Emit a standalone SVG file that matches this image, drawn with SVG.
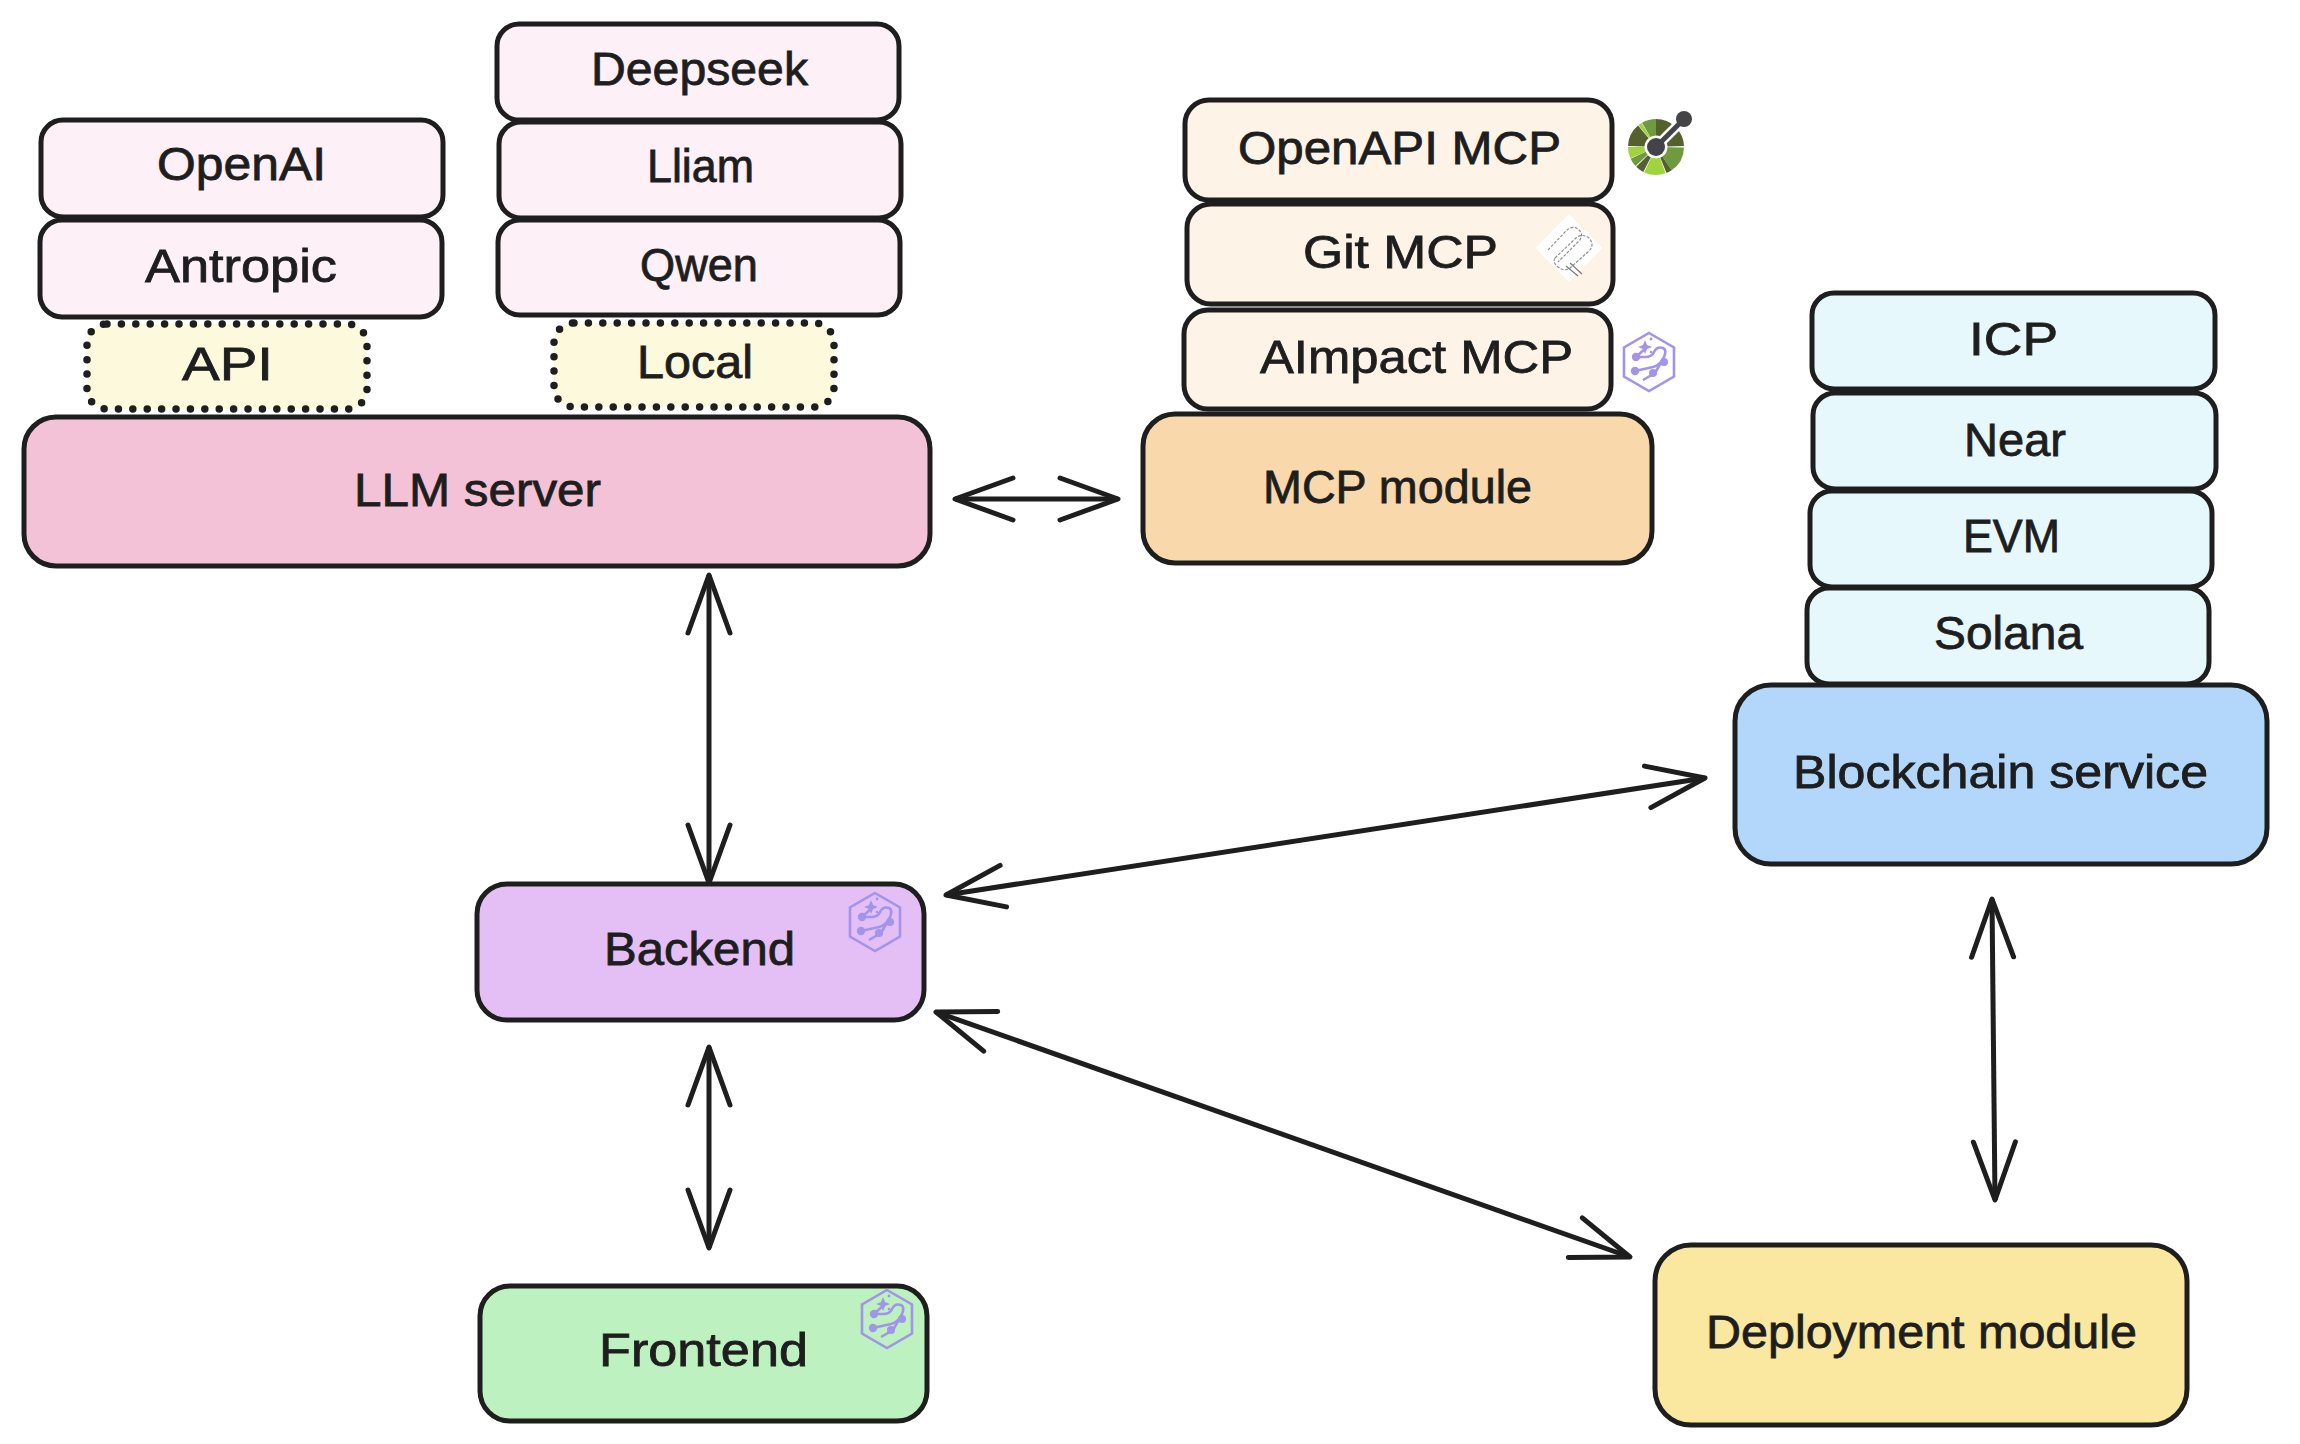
<svg xmlns="http://www.w3.org/2000/svg" width="2300" height="1444" viewBox="0 0 2300 1444">
<style>
.b{stroke:#1e1e1e;stroke-width:5}
.t{font-family:"Liberation Sans",Arial,sans-serif;font-size:46px;fill:#1e1e1e;stroke:#1e1e1e;stroke-width:.8}
.d{stroke:#1e1e1e;stroke-width:7.5;stroke-linecap:round;stroke-dasharray:0 14.4;fill:#fdf9dd}
.c{fill:none;stroke:#1e1e1e;stroke-width:5;marker-start:url(#ah);marker-end:url(#ah)}
.pk{fill:#fdf0f6}.or{fill:#fdf3e7}.bl{fill:#e6f8fc}
.w{fill:none;stroke-width:16.5}
.dk{stroke:#55602f}.md{stroke:#6f9a40}.lt{stroke:#a0d33f}
</style>
<defs>
<marker id="ah" markerUnits="userSpaceOnUse" markerWidth="70" markerHeight="60" refX="62" refY="30" orient="auto-start-reverse" overflow="visible">
<path d="M4 9 L62 30 L4 51" fill="none" stroke="#1e1e1e" stroke-width="5" stroke-linecap="round" stroke-linejoin="round"/>
</marker>
<symbol id="hex" viewBox="-26 -30 52 60" overflow="visible">
<g fill="none" stroke="#a294ea" stroke-width="2.600">
<path d="M0-29 25-14.500V14.500L0 29-25 14.500V-14.500Z"/>
<path d="M-13-5H-4Q3-5 5-10 8-16 14-14 18-12 15-5 12 3 4 5L-14 9"/>
<path d="M14-3 6 11 -6 18"/>
<path d="M-2-15-13-5"/>
</g>
<g fill="#a294ea"><circle cx="-13" cy="-5" r="4.200"/><circle cx="-14" cy="9" r="4.200"/><circle cx="4" cy="11" r="4"/><circle cx="15" cy="0" r="4"/>
<path d="M-4-22-2-17 3-15-2-13-4-8-6-13-11-15-6-17Z"/><circle cx="2" cy="-23" r="1.400"/><circle cx="2" cy="-10" r="1.200"/></g>
</symbol>
</defs>
<g id="connectors">
<path class="c" d="M955 499H1118"/>
<path class="c" d="M709 575V883"/>
<path class="c" d="M709 1047V1248"/>
<path class="c" d="M946 895 1705 778"/>
<path class="c" d="M936 1012 1630 1257"/>
<path class="c" d="M1992 899 1995 1200"/>
</g>
<g id="openai"><rect class="b pk" x="41" y="120" width="402" height="97" rx="22"/><text class="t" x="157" y="180" textLength="169" lengthAdjust="spacingAndGlyphs">OpenAI</text></g>
<g id="antropic"><rect class="b pk" x="40" y="220" width="402" height="97" rx="22"/><text class="t" x="145" y="282" textLength="192" lengthAdjust="spacingAndGlyphs">Antropic</text></g>
<g id="deepseek"><rect class="b pk" x="497" y="24" width="402" height="96" rx="22"/><text class="t" x="591" y="85" textLength="217" lengthAdjust="spacingAndGlyphs">Deepseek</text></g>
<g id="lliam"><rect class="b pk" x="499" y="122" width="402" height="96" rx="22"/><text class="t" x="647" y="182" textLength="107" lengthAdjust="spacingAndGlyphs">Lliam</text></g>
<g id="qwen"><rect class="b pk" x="498" y="220" width="402" height="95" rx="22"/><text class="t" x="640" y="281" textLength="118" lengthAdjust="spacingAndGlyphs">Qwen</text></g>
<g id="api"><rect class="d" x="87" y="324" width="280" height="85" rx="20"/><text class="t" x="182" y="380" textLength="91" lengthAdjust="spacingAndGlyphs">API</text></g>
<g id="local"><rect class="d" x="554" y="323" width="280" height="84" rx="20"/><text class="t" x="637" y="378" textLength="116" lengthAdjust="spacingAndGlyphs">Local</text></g>
<g id="llm-server"><rect class="b" fill="#f4c2d6" x="24" y="417" width="906" height="149" rx="32"/><text class="t" x="354" y="506" textLength="247" lengthAdjust="spacingAndGlyphs">LLM server</text></g>
<g id="openapi-mcp"><rect class="b or" x="1185" y="100" width="427" height="100" rx="24"/><text class="t" x="1238" y="164" textLength="323" lengthAdjust="spacingAndGlyphs">OpenAPI MCP</text></g>
<g id="git-mcp"><rect class="b or" x="1187" y="204" width="426" height="100" rx="24"/><text class="t" x="1303" y="268" textLength="195" lengthAdjust="spacingAndGlyphs">Git MCP</text></g>
<g id="aimpact-mcp"><rect class="b or" x="1184" y="310" width="427" height="99" rx="24"/><text class="t" x="1260" y="373" textLength="313" lengthAdjust="spacingAndGlyphs">AImpact MCP</text></g>
<g id="mcp-module"><rect class="b" fill="#f9d8ab" x="1143" y="414" width="509" height="149" rx="32"/><text class="t" x="1263" y="503" textLength="269" lengthAdjust="spacingAndGlyphs">MCP module</text></g>
<g id="openapi-icon">
<g transform="rotate(-90 1656 147)">
<circle class="w dk" cx="1656" cy="147" r="19.750" pathLength="360" stroke-dasharray="88 272"/>
<circle class="w md" cx="1656" cy="147" r="19.750" pathLength="360" stroke-dasharray="55 305" stroke-dashoffset="-91"/>
<circle class="w dk" cx="1656" cy="147" r="19.750" pathLength="360" stroke-dasharray="12 348" stroke-dashoffset="-146"/>
<circle class="w lt" cx="1656" cy="147" r="19.750" pathLength="360" stroke-dasharray="45 315" stroke-dashoffset="-160"/>
<circle class="w dk" cx="1656" cy="147" r="19.750" pathLength="360" stroke-dasharray="18 342" stroke-dashoffset="-207"/>
<circle class="w md" cx="1656" cy="147" r="19.750" pathLength="360" stroke-dasharray="18 342" stroke-dashoffset="-227"/>
<circle class="w lt" cx="1656" cy="147" r="19.750" pathLength="360" stroke-dasharray="24 336" stroke-dashoffset="-246"/>
<circle class="w dk" cx="1656" cy="147" r="19.750" pathLength="360" stroke-dasharray="48 312" stroke-dashoffset="-272"/>
<circle class="w lt" cx="1656" cy="147" r="19.750" pathLength="360" stroke-dasharray="8 352" stroke-dashoffset="-321"/>
<circle class="w md" cx="1656" cy="147" r="19.750" pathLength="360" stroke-dasharray="30 330" stroke-dashoffset="-330"/>
</g>
<path d="M1656 147 1684 119" stroke="#fff" stroke-width="10"/>
<path d="M1656 147 1684 119" stroke="#444448" stroke-width="5"/>
<circle cx="1656" cy="147" r="9" fill="#444448"/><circle cx="1684" cy="119" r="8" fill="#444448"/>
</g>
<g id="git-icon">
<rect x="1545" y="224" width="48" height="48" rx="3" fill="#fff" transform="rotate(45 1569 248)"/>
<g fill="none" stroke="#8a8a8a" stroke-width="1.100" stroke-dasharray="3 1.500">
<path d="M1548 250 1566 231Q1572 225 1578 229 1585 235 1578 242L1558 262"/>
<path d="M1555 258 1576 238Q1582 233 1589 238 1595 245 1589 251L1570 268Q1564 272 1558 267 1552 262 1555 258"/>
</g>
<path d="M1566 266 1578 276M1570 263 1582 274" stroke="#777" stroke-width="1.100" fill="none"/>
</g>
<use id="aimpact-icon" href="#hex" x="1623" y="332" width="52" height="60"/>
<g id="icp"><rect class="b bl" x="1812" y="293" width="403" height="96" rx="22"/><text class="t" x="1969" y="355" textLength="89" lengthAdjust="spacingAndGlyphs">ICP</text></g>
<g id="near"><rect class="b bl" x="1813" y="393" width="403" height="96" rx="22"/><text class="t" x="1964" y="456" textLength="102" lengthAdjust="spacingAndGlyphs">Near</text></g>
<g id="evm"><rect class="b bl" x="1810" y="491" width="402" height="96" rx="22"/><text class="t" x="1963" y="552" textLength="97" lengthAdjust="spacingAndGlyphs">EVM</text></g>
<g id="solana"><rect class="b bl" x="1807" y="588" width="402" height="96" rx="22"/><text class="t" x="1934" y="649" textLength="149" lengthAdjust="spacingAndGlyphs">Solana</text></g>
<g id="blockchain-service"><rect class="b" fill="#b2d7fb" x="1735" y="685" width="532" height="179" rx="36"/><text class="t" x="1793" y="788" textLength="415" lengthAdjust="spacingAndGlyphs">Blockchain service</text></g>
<g id="backend"><rect class="b" fill="#e4bff5" x="477" y="884" width="447" height="136" rx="30"/><text class="t" x="604" y="965" textLength="191" lengthAdjust="spacingAndGlyphs">Backend</text><use href="#hex" x="849" y="892" width="52" height="60"/></g>
<g id="frontend"><rect class="b" fill="#bdf1bf" x="480" y="1286" width="447" height="135" rx="30"/><text class="t" x="599" y="1366" textLength="209" lengthAdjust="spacingAndGlyphs">Frontend</text><use href="#hex" x="861" y="1289" width="52" height="60"/></g>
<g id="deployment-module"><rect class="b" fill="#fbe8a0" x="1655" y="1245" width="532" height="180" rx="36"/><text class="t" x="1706" y="1348" textLength="431" lengthAdjust="spacingAndGlyphs">Deployment module</text></g>
</svg>
